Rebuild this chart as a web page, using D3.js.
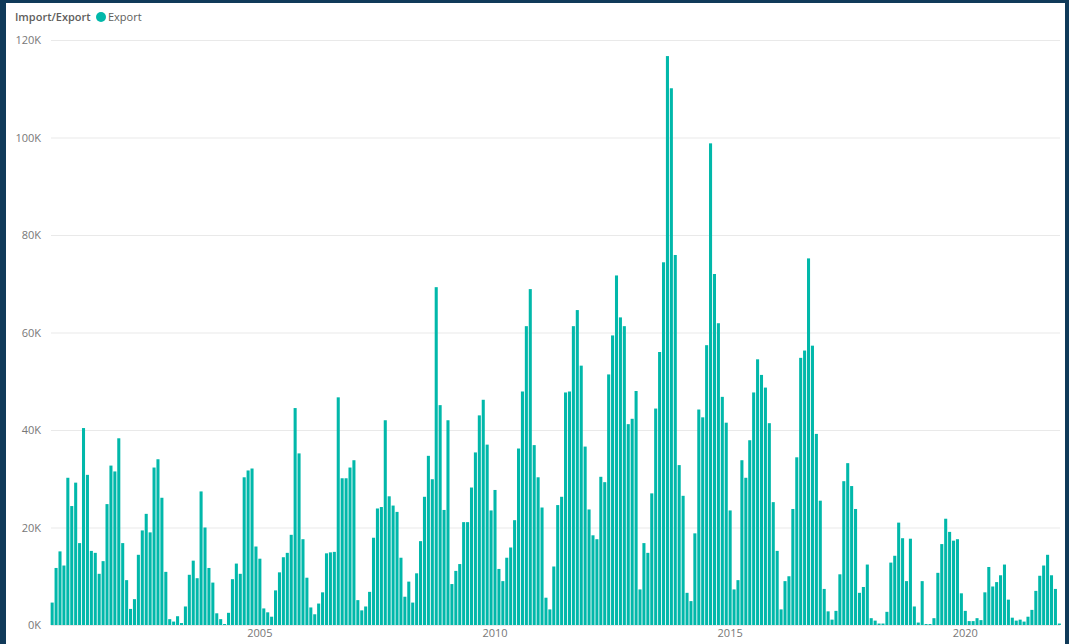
<!DOCTYPE html>
<html>
<head>
<meta charset="utf-8">
<script src="https://cdn.jsdelivr.net/npm/d3@7"></script>
<style>
  html, body { margin: 0; padding: 0; background: #103a59; }
  svg { display: block; }
  text { font-family: "Segoe UI", "Open Sans", "Noto Sans", sans-serif; }
</style>
</head>
<body>
<svg id="chart" width="1069" height="644"></svg>
<script>
// ---- Data (Export, in thousands), monthly from Aug 2000 to Jan 2022 ----
const firstMonth = "2000-08";
const export2000_2004 = [4.6, 11.7, 15.1, 12.2, 30.2, 24.4, 29.2, 16.8, 40.4, 30.8, 15.2, 14.8, 10.5, 13.1, 24.8, 32.7, 31.5, 38.3, 16.8, 9.2, 3.3, 5.3, 14.4, 19.4, 22.8, 19.0, 32.3, 34.0, 26.1, 10.9, 1.2, 0.7, 1.8, 0.4, 3.8, 10.3, 13.2, 9.6, 27.4, 20.0, 11.7, 8.7, 2.4, 1.2, 0.2, 2.5, 9.4, 12.6, 10.5, 30.3, 31.7, 32.1];
const export2005_2009 = [16.1, 13.6, 3.4, 2.6, 1.7, 7.1, 10.8, 13.9, 14.8, 18.5, 44.5, 35.2, 17.6, 9.7, 3.6, 2.2, 4.4, 6.7, 14.7, 14.9, 15.0, 46.7, 30.1, 30.1, 32.3, 33.8, 5.1, 3.0, 3.8, 6.8, 17.9, 23.9, 24.2, 42.0, 26.4, 24.5, 23.2, 13.8, 5.8, 8.9, 4.6, 10.6, 17.2, 26.3, 34.7, 29.9, 69.3, 45.1, 23.6, 42.0, 8.4];
const export2009_2012 = [11.1, 12.5, 21.1, 21.1, 28.2, 35.4, 43.0, 46.2, 37.0, 23.5, 27.7, 11.5, 9.0, 13.8, 15.9, 21.5, 36.2, 47.9, 61.3, 68.9, 36.9, 30.3, 24.1, 5.6, 3.2, 12.0, 24.6, 26.3, 47.7, 47.9, 61.3, 64.6, 53.2, 36.6, 23.7, 18.4, 17.6, 30.4, 29.3, 51.4, 59.4, 71.7, 63.1, 61.3, 41.2, 42.3, 48.0];
const export2013_2017 = [7.3, 16.8, 14.8, 27.0, 44.4, 56.0, 74.4, 116.7, 110.1, 75.9, 32.8, 26.5, 6.6, 4.9, 18.8, 44.2, 42.6, 57.4, 98.8, 72.0, 61.9, 46.8, 41.5, 23.5, 7.3, 9.2, 33.8, 30.2, 37.9, 47.7, 54.5, 51.3, 48.7, 41.4, 25.2, 15.2, 3.2, 9.0, 10.0, 23.8, 34.4, 54.8, 56.3, 75.2, 57.3, 39.2, 25.5, 7.4, 2.8, 1.1, 2.9, 10.4, 29.5, 33.2, 28.5];
const export2017_2022 = [23.8, 6.6, 7.8, 12.4, 1.4, 0.9, 0.3, 0.3, 2.7, 12.8, 14.2, 21.0, 17.8, 9.0, 17.7, 3.8, 0.5, 9.0, 0.2, 0.2, 1.4, 10.7, 16.6, 21.8, 19.1, 17.3, 17.6, 6.5, 2.9, 0.8, 0.8, 1.4, 1.0, 6.7, 11.9, 7.9, 8.8, 10.2, 12.4, 5.2, 1.5, 0.9, 1.1, 0.7, 1.7, 3.1, 7.0, 10.1, 12.2, 14.4, 10.2, 7.4, 0.3];
const yTickValues = [0, 20000, 40000, 60000, 80000, 100000, 120000];
const yTickLabels = ["0K", "20K", "40K", "60K", "80K", "100K", "120K"];
const xTickYears = [2005, 2010, 2015, 2020];
const legendTitle = "Import/Export";
const seriesName = "Export";

// ---- Build ----
const values = [].concat(export2000_2004, export2005_2009, export2009_2012, export2013_2017, export2017_2022).map(v => v * 1000);
const start = d3.timeParse("%Y-%m")(firstMonth);
const months = values.map((v, i) => d3.timeMonth.offset(start, i));
const data = months.map((m, i) => ({ month: m, value: values[i] }));

const W = 1069, H = 644;
const svg = d3.select("#chart");
const teal = "#01B8AA";

// panel
svg.append("rect").attr("x", 0).attr("y", 0).attr("width", W).attr("height", H).attr("fill", "#103a59");
svg.append("rect").attr("x", 6).attr("y", 3).attr("width", 1059).attr("height", H - 3).attr("fill", "#ffffff");

const x0 = 50.2, step = 3.919;
const x = d3.scaleBand()
  .domain(months.map(d => +d))
  .range([x0, x0 + step * months.length])
  .paddingInner(0.22)
  .paddingOuter(0.11);

const y = d3.scaleLinear().domain([0, 120000]).range([625, 40]);

// gridlines
svg.append("g")
  .selectAll("line")
  .data(yTickValues)
  .join("line")
  .attr("x1", 51).attr("x2", 1060)
  .attr("y1", d => y(d) + 0.5).attr("y2", d => y(d) + 0.5)
  .attr("stroke", "#e9e9e9").attr("stroke-width", 1);

// y axis labels
const yAxis = d3.axisLeft(y).tickValues(yTickValues).tickFormat((d, i) => yTickLabels[i]).tickSize(0).tickPadding(0);
const gy = svg.append("g").attr("transform", "translate(41,0)").call(yAxis);
gy.select(".domain").remove();
gy.selectAll("text").attr("fill", "#777777").style("font-size", "11px")
  .style("font-family", '"Segoe UI", "Open Sans", sans-serif');

// bars
svg.append("g")
  .selectAll("rect")
  .data(data)
  .join("rect")
  .attr("x", d => x(+d.month))
  .attr("width", x.bandwidth())
  .attr("y", d => y(d.value))
  .attr("height", d => y(0) - y(d.value))
  .attr("fill", teal);

// x axis labels (January of selected years)
const janTicks = xTickYears.map(yr => +new Date(yr, 0, 1));
const xAxis = d3.axisBottom(x).tickValues(janTicks).tickFormat(d => d3.timeFormat("%Y")(new Date(d))).tickSize(0).tickPadding(0);
const gx = svg.append("g").attr("transform", "translate(0,629)").call(xAxis);
gx.select(".domain").remove();
gx.selectAll("text").attr("fill", "#777777").style("font-size", "11px")
  .style("font-family", '"Segoe UI", "Open Sans", sans-serif');

// legend
const lg = svg.append("g");
lg.append("text").attr("x", 15).attr("y", 21).text(legendTitle)
  .attr("fill", "#605e5c").style("font-size", "11px").style("font-weight", "600");
lg.append("circle").attr("cx", 101).attr("cy", 17).attr("r", 5).attr("fill", teal);
lg.append("text").attr("x", 108).attr("y", 21).text(seriesName)
  .attr("fill", "#605e5c").style("font-size", "11px");
</script>
</body>
</html>
